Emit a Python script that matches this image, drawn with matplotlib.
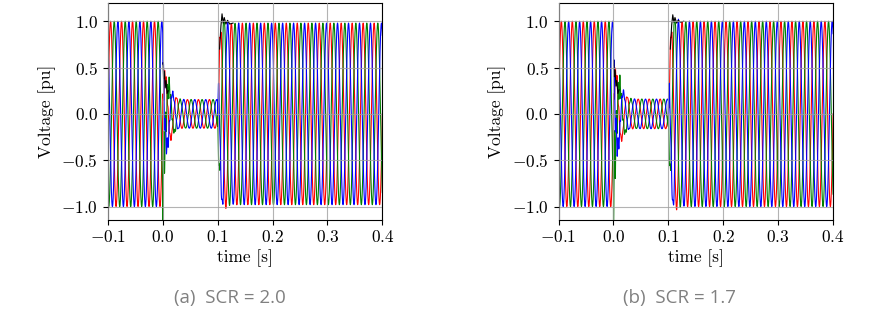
import numpy as np
import matplotlib
matplotlib.use("Agg")
import matplotlib.pyplot as plt

plt.rcParams.update({
    "font.family": "serif",
    "font.serif": ["cmr10"],
    "mathtext.fontset": "cm",
    "axes.formatter.use_mathtext": True,
    "font.size": 12.5,
})

# --- data ---
FREQ = 50.0                      # grid frequency [Hz]
PHASE_COLORS = ["red", "green", "blue"]
PHASE_SHIFT_DEG = [0.0, -120.0, 120.0]

FAULT_ON = 0.0
FAULT_OFF = 0.1

# peak amplitude envelope of the phase voltages (time [s], value [pu])
env_t_a = [-0.1, 0.0, 0.002, 0.008, 0.02, 0.03, 0.1, 0.1005, 0.104, 0.11, 0.12, 0.4]
env_v_a = [1.0, 1.0, 0.45, 0.35, 0.20, 0.155, 0.155, 0.2, 0.85, 1.03, 0.98, 0.98]
env_t_b = [-0.1, 0.0, 0.002, 0.008, 0.02, 0.03, 0.1, 0.1005, 0.104, 0.11, 0.12, 0.4]
env_v_b = [1.0, 1.0, 0.48, 0.36, 0.21, 0.16, 0.16, 0.2, 0.85, 1.04, 1.0, 1.0]

# damped ringing right after fault inception / clearing, per phase [pu]
ring_on_a = [0.15, -0.40, -0.25]
ring_off_a = [0.10, 0.12, -0.15]
ring_on_b = [0.15, -0.45, -0.28]
ring_off_b = [0.10, 0.12, -0.15]
RING_FREQ = 300.0
RING_TAU = 0.008

# black trace, visible only around the switching instants
black_t_a = [0.0005, 0.0015, 0.003, 0.0045, 0.006, 0.008, 0.010,
             0.1035, 0.106, 0.108, 0.110, 0.112, 0.115, 0.118, 0.122, 0.128]
black_v_a = [0.55, 0.38, 0.46, 0.28, 0.36, 0.22, 0.25,
             0.70, 0.95, 1.08, 0.98, 1.04, 0.97, 1.01, 0.97, 0.98]
black_t_b = [0.0005, 0.0015, 0.003, 0.0045, 0.006, 0.008, 0.010,
             0.1035, 0.106, 0.108, 0.110, 0.112, 0.115, 0.118, 0.122, 0.128]
black_v_b = [0.58, 0.40, 0.47, 0.30, 0.36, 0.22, 0.26,
             0.70, 0.96, 1.07, 0.99, 1.04, 0.98, 1.01, 0.99, 1.0]

captions = ["(a)  SCR = 2.0", "(b)  SCR = 1.7"]


def phase_voltages(t, env_t, env_v, ring_on, ring_off):
    amp = np.interp(t, env_t, env_v)
    waves = []
    for k, shift in enumerate(PHASE_SHIFT_DEG):
        w = amp * np.sin(2 * np.pi * FREQ * t + np.deg2rad(shift))
        for t0, a in ((FAULT_ON, ring_on[k]), (FAULT_OFF, ring_off[k])):
            m = t >= t0
            dt = t[m] - t0
            w[m] += a * np.exp(-dt / RING_TAU) * np.cos(2 * np.pi * RING_FREQ * dt)
        waves.append(w)
    return waves


fig = plt.figure(figsize=(8.71, 3.27), dpi=100)
t = np.linspace(-0.1, 0.4, 20001)

panels = [
    (0.1238, 0.264, env_t_a, env_v_a, ring_on_a, ring_off_a, black_t_a, black_v_a),
    (0.6413, 0.780, env_t_b, env_v_b, ring_on_b, ring_off_b, black_t_b, black_v_b),
]

for i, (left, cap_x, et, ev, ron, roff, bt, bv) in enumerate(panels):
    ax = fig.add_axes([left, 0.3287, 0.3152, 0.663])
    for w, c in zip(phase_voltages(t, et, ev, ron, roff), PHASE_COLORS):
        ax.plot(t, w, color=c, lw=0.8)
    # black trace in two pieces (fault inception and clearing)
    ax.plot(bt[:7], bv[:7], color="black", lw=0.8)
    ax.plot(bt[7:], bv[7:], color="black", lw=0.8)

    ax.set_xlim(-0.1, 0.4)
    ax.set_ylim(-1.14, 1.2)
    ax.set_xticks([-0.1, 0.0, 0.1, 0.2, 0.3, 0.4])
    ax.set_yticks([-1.0, -0.5, 0.0, 0.5, 1.0])
    ax.grid(True, color="#a0a0a0", lw=0.8, alpha=0.8)
    ax.set_axisbelow(False)
    ax.set_xlabel("time [s]", labelpad=3)
    ax.set_ylabel("Voltage [pu]", labelpad=4)
    for s in ax.spines.values():
        s.set_linewidth(0.8)

    fig.text(cap_x, 0.089, captions[i], ha="center", va="center",
             family="Open Sans", fontsize=13.5, color="#808080")

fig.savefig("out.png", dpi=100)
